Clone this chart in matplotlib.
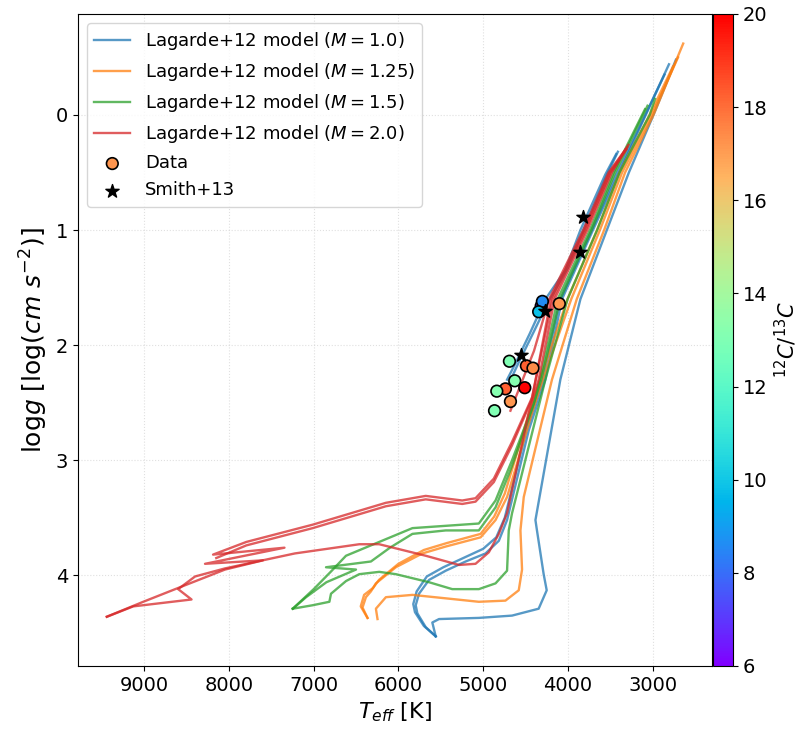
import numpy as np
import matplotlib
matplotlib.use("Agg")
from matplotlib import pyplot as plt

# observed stars: Teff, logg and 12C/13C
teff_data = [4101, 4315, 4301, 4345, 4690, 4490, 4412, 4627, 4509, 4737, 4839, 4678, 4866]
logg_data = [1.64, 1.66, 1.62, 1.71, 2.14, 2.18, 2.20, 2.31, 2.37, 2.38, 2.40, 2.49, 2.57]
ratio_data = [17.2, 6.6, 8.6, 9.8, 13.0, 18.3, 17.4, 13.2, 20.0, 18.3, 13.2, 17.2, 13.0]

smith_teff = [3827, 3854, 4274, 4553]
smith_logg = [0.89, 1.19, 1.70, 2.09]

# Lagarde+12 tracks, (Teff, logg) pairs
m10_a = [(5560, 4.53), (5678, 4.45), (5777, 4.33), (5796, 4.26), (5757, 4.16), (5639, 4.04),
         (5442, 3.96), (5207, 3.88), (4972, 3.81), (4815, 3.70), (4718, 3.52), (4462, 2.74),
         (4266, 2.30), (4069, 1.60), (3704, 1.00), (3393, 0.50), (3081, 0.00), (2807, -0.44)]
m10_b = [(5560, 4.53), (5700, 4.44), (5805, 4.32), (5825, 4.25), (5785, 4.14), (5665, 4.01),
         (5470, 3.93), (5235, 3.85), (5000, 3.77), (4845, 3.67), (4745, 3.50), (4490, 2.74),
         (4300, 2.32), (4100, 1.62), (3730, 1.02), (3430, 0.52), (3100, 0.02), (2860, -0.35)]
m10_c = [(5560, 4.53), (5600, 4.41), (5521, 4.38), (5051, 4.37), (4659, 4.35), (4345, 4.29),
         (4250, 4.13), (4286, 3.99), (4365, 3.61), (4383, 3.52), (4089, 2.30), (3852, 1.60),
         (3540, 1.00), (3280, 0.50), (2990, 0.00), (2725, -0.48)]
m10_d = [(4718, 2.30), (4620, 2.16), (4450, 1.90), (4265, 1.60), (4031, 1.35), (3852, 1.00),
         (3560, 0.52), (3430, 0.34)]
m10_e = [(4700, 2.34), (4580, 2.15), (4400, 1.88), (4230, 1.62), (4000, 1.33), (3830, 1.02),
         (3540, 0.52), (3410, 0.32)]

m125_a = [(6247, 4.38), (6266, 4.29), (6148, 4.19), (5835, 4.17), (5442, 4.20), (5051, 4.23),
          (4737, 4.22), (4580, 4.13), (4541, 3.95), (4560, 3.61), (4521, 3.32), (4188, 2.30),
          (3895, 1.60), (3572, 1.00), (3325, 0.50), (2990, 0.00), (2639, -0.62)]
m125_b = [(6365, 4.37), (6424, 4.28), (6384, 4.19), (6325, 4.14), (6266, 4.07), (6031, 3.93),
          (5718, 3.81), (5442, 3.75), (5030, 3.67), (4854, 3.52), (4718, 3.32), (4424, 2.59),
          (4296, 2.30), (3960, 1.60), (3622, 1.00), (3360, 0.50), (3010, 0.00), (2700, -0.50)]
m125_c = [(6365, 4.37), (6445, 4.27), (6405, 4.17), (6300, 4.11), (6230, 4.04), (6000, 3.90),
          (5700, 3.78), (5430, 3.72), (5030, 3.64), (4870, 3.49), (4745, 3.29), (4455, 2.58),
          (4330, 2.30), (4004, 1.60), (3655, 1.00), (3390, 0.50), (3035, 0.00), (2760, -0.42)]

m15_a = [(7247, 4.29), (7012, 4.26), (6815, 4.23), (6796, 4.16), (6619, 4.05), (6462, 3.99),
         (6227, 3.97), (6031, 3.99), (5639, 4.06), (5365, 4.12), (5051, 4.12), (4854, 4.07),
         (4718, 3.96), (4698, 3.61), (4659, 3.46), (4560, 3.17), (4266, 2.30), (4004, 1.60),
         (3655, 1.00), (3390, 0.50), (3035, 0.00), (2972, -0.14)]
m15_b = [(7247, 4.29), (7090, 4.19), (6850, 4.06), (6501, 3.95), (6855, 3.93), (6325, 3.88),
         (6100, 3.76), (5835, 3.64), (5442, 3.61), (5051, 3.61), (4854, 3.41), (4659, 3.05),
         (4420, 2.55), (4315, 2.30), (4091, 1.60), (3720, 1.00), (3442, 0.50), (3060, -0.08)]
m15_c = [(7247, 4.29), (7000, 4.12), (6800, 3.97), (6619, 3.83), (6227, 3.71), (5835, 3.59),
         (5442, 3.57), (5051, 3.55), (4854, 3.35), (4659, 3.00), (4400, 2.50), (4330, 2.30),
         (4120, 1.60), (3740, 1.00), (3460, 0.50), (3090, -0.05)]

m20_a = [(9442, 4.36), (9130, 4.27), (8442, 4.21), (8600, 4.12), (8400, 4.01), (8047, 3.94),
         (7223, 3.81), (6462, 3.73), (6227, 3.73), (5678, 3.83), (5286, 3.91), (5090, 3.90),
         (4933, 3.80), (4815, 3.64), (4718, 3.46), (4464, 2.59), (4345, 2.30), (4156, 1.60),
         (3770, 1.00), (3481, 0.50), (3286, 0.26)]
m20_b = [(9442, 4.36), (9012, 4.23), (8600, 4.11), (8047, 3.95), (7600, 3.87), (8283, 3.90),
         (7345, 3.76), (8188, 3.82), (7795, 3.71), (7012, 3.56), (6148, 3.37), (5678, 3.31),
         (5247, 3.35), (5090, 3.33), (4874, 3.16), (4659, 2.84), (4420, 2.45), (4200, 1.60),
         (3803, 1.00), (3507, 0.50), (3300, 0.28)]
m20_c = [(8150, 3.85), (7795, 3.74), (7012, 3.59), (6148, 3.40), (5678, 3.34), (5247, 3.38),
         (5090, 3.36), (4874, 3.19), (4659, 2.87), (4430, 2.48), (4180, 1.60), (3790, 1.00),
         (3495, 0.50), (3310, 0.30)]
m20_d = [(4678, 2.57), (4400, 2.05), (4221, 1.60), (3819, 1.00), (3520, 0.50), (3320, 0.30)]

masses = ['1.0', '1.25', '1.5', '2.0']
tracks = [[m10_a, m10_b, m10_c, m10_d, m10_e],
          [m125_a, m125_b, m125_c],
          [m15_a, m15_b, m15_c],
          [m20_a, m20_b, m20_c, m20_d]]
colors = ['tab:blue', 'tab:orange', 'tab:green', 'tab:red']

fig = plt.figure(figsize=(8.04, 7.37), dpi=100)
ax = fig.add_axes([0.097, 0.0964, 0.7886, 0.8847])
cax = fig.add_axes([0.8868, 0.0964, 0.0249, 0.8847])

for m, trk, c in zip(masses, tracks, colors):
    for i, t in enumerate(trk):
        t = np.array(t)
        label = 'Lagarde+12 model ($M={}$)'.format(m) if i == 0 else None
        ax.plot(t[:, 0], t[:, 1], color=c, lw=1.7, alpha=0.75, label=label, zorder=2)

sc = ax.scatter(teff_data, logg_data, c=ratio_data, cmap='rainbow', vmin=6, vmax=20,
                s=70, edgecolors='black', linewidths=1.2, label='Data', zorder=3)
ax.scatter(smith_teff, smith_logg, marker='*', color='black', s=100, label='Smith+13', zorder=4)

ax.invert_xaxis()
ax.invert_yaxis()
ax.grid(ls=':', color='lightgray', alpha=0.7)
ax.tick_params(labelsize=14)
ax.set_xlabel('$T_{eff}$ [K]', fontsize=16)
ax.set_ylabel('log$g$ [log$(cm\\ s^{-2})$]', fontsize=18)
ax.legend(loc='upper left', fontsize=13)

cb = fig.colorbar(sc, cax=cax, ticks=np.arange(6, 21, 2))
cb.ax.tick_params(labelsize=14)
cb.set_label('$^{12}C/^{13}C$', fontsize=15)

fig.savefig('out.png', dpi=100)
